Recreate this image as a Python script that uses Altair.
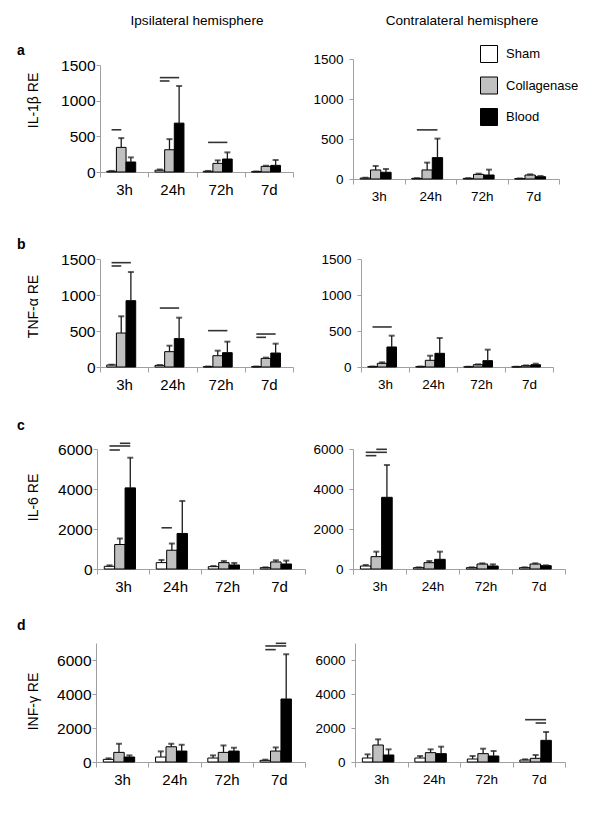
import altair as alt
import pandas as pd

categories = ["3h", "24h", "72h", "7d"]
groups = ["Sham", "Collagenase", "Blood"]
group_fills = ["#ffffff", "#c0c0c0", "#000000"]
column_titles = ["Ipsilateral hemisphere", "Contralateral hemisphere"]
row_letters = ["a", "b", "c", "d"]
row_titles = ["IL-1β RE", "TNF-α RE", "IL-6 RE", "INF-γ RE"]

# ---- a: IL-1beta ----
il1b_ipsi_sham = [10, 25, 10, 5]
il1b_ipsi_sham_sd = [5, 10, 5, 3]
il1b_ipsi_coll = [345, 312, 121, 79]
il1b_ipsi_coll_sd = [130, 149, 42, 9]
il1b_ipsi_blood = [140, 685, 182, 93]
il1b_ipsi_blood_sd = [65, 521, 93, 75]

il1b_contra_sham = [12, 8, 8, 5]
il1b_contra_sham_sd = [4, 3, 3, 2]
il1b_contra_coll = [113, 113, 58, 50]
il1b_contra_coll_sd = [50, 92, 9, 8]
il1b_contra_blood = [84, 267, 50, 29]
il1b_contra_blood_sd = [41, 238, 67, 9]

# ---- b: TNF-alpha ----
tnf_ipsi_sham = [28, 23, 5, 5]
tnf_ipsi_sham_sd = [4, 5, 2, 2]
tnf_ipsi_coll = [472, 213, 157, 120]
tnf_ipsi_coll_sd = [232, 83, 70, 10]
tnf_ipsi_blood = [921, 394, 199, 194]
tnf_ipsi_blood_sd = [398, 291, 153, 130]

tnf_contra_sham = [5, 5, 3, 3]
tnf_contra_sham_sd = [2, 2, 1, 1]
tnf_contra_coll = [51, 93, 32, 18]
tnf_contra_coll_sd = [14, 64, 5, 4]
tnf_contra_blood = [278, 190, 88, 32]
tnf_contra_blood_sd = [157, 213, 153, 14]

# ---- c: IL-6 ----
il6_ipsi_sham = [134, 318, 117, 67]
il6_ipsi_sham_sd = [50, 134, 34, 17]
il6_ipsi_coll = [1224, 939, 318, 352]
il6_ipsi_coll_sd = [301, 335, 84, 84]
il6_ipsi_blood = [4056, 1777, 201, 251]
il6_ipsi_blood_sd = [1508, 1625, 101, 168]

il6_contra_sham = [150, 67, 67, 67]
il6_contra_sham_sd = [50, 16, 16, 16]
il6_contra_coll = [617, 317, 250, 250]
il6_contra_coll_sd = [250, 83, 33, 33]
il6_contra_blood = [3584, 483, 150, 167]
il6_contra_blood_sd = [1616, 384, 83, 16]

# ---- d: INF-gamma ----
infg_ipsi_sham = [156, 293, 234, 98]
infg_ipsi_sham_sd = [59, 331, 156, 39]
infg_ipsi_coll = [566, 897, 566, 644]
infg_ipsi_coll_sd = [507, 176, 409, 214]
infg_ipsi_blood = [293, 644, 644, 3705]
infg_ipsi_blood_sd = [97, 370, 195, 2633]

infg_contra_sham = [235, 235, 176, 118]
infg_contra_sham_sd = [215, 118, 177, 39]
infg_contra_coll = [1000, 549, 490, 216]
infg_contra_coll_sd = [333, 196, 294, 196]
infg_contra_blood = [412, 490, 353, 1274]
infg_contra_blood_sd = [333, 412, 294, 490]

# significance bars: time, from group, to group, level
sig_il1b_ipsi = [["3h", "Sham", "Collagenase", 592], ["24h", "Sham", "Blood", 1323],
                 ["24h", "Sham", "Collagenase", 1276], ["72h", "Sham", "Blood", 415]]
sig_il1b_contra = [["24h", "Sham", "Blood", 614]]
sig_tnf_ipsi = [["3h", "Sham", "Blood", 1449], ["3h", "Sham", "Collagenase", 1403],
                ["24h", "Sham", "Blood", 819], ["72h", "Sham", "Blood", 505],
                ["7d", "Sham", "Blood", 458], ["7d", "Sham", "Collagenase", 412]]
sig_tnf_contra = [["3h", "Sham", "Blood", 556]]
sig_il6_ipsi = [["3h", "Collagenase", "Blood", 6285], ["3h", "Sham", "Blood", 6151],
                ["3h", "Sham", "Collagenase", 5950], ["24h", "Sham", "Collagenase", 2061]]
sig_il6_contra = [["3h", "Collagenase", "Blood", 5984], ["3h", "Sham", "Blood", 5834],
                  ["3h", "Sham", "Collagenase", 5667]]
sig_infg_ipsi = [["7d", "Collagenase", "Blood", 6981], ["7d", "Sham", "Blood", 6825],
                 ["7d", "Sham", "Collagenase", 6610]]
sig_infg_contra = [["7d", "Sham", "Blood", 2489], ["7d", "Collagenase", "Blood", 2293]]

FONT = "Liberation Sans"
GRAY = "#a0a0a0"


def panel(series, sigs, ymax, ticks, width, height, top, xoff, left, row,
          title_xy=None, letter_y=None, header=None, legend=False):
    recs = []
    for g, (m, s) in zip(groups, series):
        for c, mv, sv in zip(categories, m, s):
            recs.append({"time": c, "group": g, "mean": mv, "upper": mv + sv})
    df = pd.DataFrame(recs)
    srecs = []
    for i, (c, g1, g2, lvl) in enumerate(sigs):
        srecs.append({"time": c, "group": g1, "level": lvl, "id": i})
        srecs.append({"time": c, "group": g2, "level": lvl, "id": i})
    sdf = pd.DataFrame(srecs)

    xscale = alt.Scale(domain=categories, range=[xoff, width], paddingInner=0, paddingOuter=0)
    xoscale = alt.Scale(domain=groups, paddingInner=0, paddingOuter=1, align=0.35)
    yscale = alt.Scale(domain=[0, ymax], range=[height, top], nice=False, zero=True)

    xaxis = alt.Axis(title=None, labelAngle=0, tickBand="extent", tickSize=5,
                     tickColor=GRAY, domainColor=GRAY, labelFont=FONT,
                     labelFontSize=15 if left else 13.5, labelColor="black",
                     labelPadding=5)
    yax = dict(values=ticks, format="d", grid=False, tickSize=4, tickColor=GRAY,
               domainColor=GRAY, labelFont=FONT, labelFontSize=15.5 if left else 13.5,
               labelColor="black", labelPadding=1 if left else 6, offset=-xoff)
    if left:
        yax.update(title=row_titles[row], titleFont=FONT, titleFontSize=14,
                   titleFontWeight="normal", titleColor="black", titleAngle=270,
                   titleBaseline="middle", titleAlign="center",
                   titleX=title_xy[0], titleY=title_xy[1])
    else:
        yax["title"] = None
    yaxis = alt.Axis(**yax)

    X = alt.X("time:N", scale=xscale, axis=xaxis, sort=categories)
    XO = alt.XOffset("group:N", scale=xoscale, sort=groups)

    if legend:
        leg = alt.Legend(orient="none", legendX=127, legendY=-14, title=None,
                         symbolType="square", symbolSize=289, symbolStrokeColor="black",
                         symbolStrokeWidth=1, symbolOpacity=1, labelFont=FONT,
                         labelFontSize=13, labelColor="black", rowPadding=9.5,
                         labelOffset=8, padding=0, direction="vertical")
    else:
        leg = None

    bars = alt.Chart(df).mark_bar(stroke="black", strokeWidth=1, opacity=1).encode(
        x=X, xOffset=XO,
        y=alt.Y("mean:Q", scale=yscale, axis=yaxis),
        fill=alt.Fill("group:N", scale=alt.Scale(domain=groups, range=group_fills),
                      legend=leg),
    )
    err = alt.Chart(df).mark_rule(color="#1a1a1a", strokeWidth=1.3).encode(
        x=X, xOffset=XO,
        y=alt.Y("mean:Q", scale=yscale, axis=yaxis), y2="upper:Q")
    caps = alt.Chart(df).mark_tick(color="#1a1a1a", thickness=2, size=6).encode(
        x=X, xOffset=XO, y=alt.Y("upper:Q", scale=yscale, axis=yaxis))
    sig = alt.Chart(sdf).mark_line(color="#333333", strokeWidth=1.6).encode(
        x=X, xOffset=XO, y=alt.Y("level:Q", scale=yscale, axis=yaxis),
        detail="id:N")

    layers = [bars, err, caps, sig]
    if letter_y is not None:
        layers.append(alt.Chart(alt.Data(values=[{}])).mark_text(
            text=row_letters[row], align="left", baseline="middle", font=FONT,
            fontSize=14, fontWeight="bold", color="black").encode(
            x=alt.value(-79), y=alt.value(letter_y)))
    if header is not None:
        layers.append(alt.Chart(alt.Data(values=[{}])).mark_text(
            text=header[0], align="center", baseline="middle", font=FONT,
            fontSize=13.6, color="black").encode(
            x=alt.value(header[1]), y=alt.value(header[2])))
    return alt.layer(*layers).properties(width=width, height=height)


def ser(a, b, c, d, e, f):
    return [(a, b), (c, d), (e, f)]


t15 = [0, 500, 1000, 1500]
t6 = [0, 2000, 4000, 6000]

charts = [
    panel(ser(il1b_ipsi_sham, il1b_ipsi_sham_sd, il1b_ipsi_coll, il1b_ipsi_coll_sd,
              il1b_ipsi_blood, il1b_ipsi_blood_sd), sig_il1b_ipsi, 1500, t15,
          197, 113, 6, 4, True, 0, title_xy=(-66.5, 41), letter_y=-8,
          header=(column_titles[0], 101, -38)),
    panel(ser(il1b_contra_sham, il1b_contra_sham_sd, il1b_contra_coll, il1b_contra_coll_sd,
              il1b_contra_blood, il1b_contra_blood_sd), sig_il1b_contra, 1500, t15,
          206, 120, 0, 0, False, 0, header=(column_titles[1], 109, -38), legend=True),
    panel(ser(tnf_ipsi_sham, tnf_ipsi_sham_sd, tnf_ipsi_coll, tnf_ipsi_coll_sd,
              tnf_ipsi_blood, tnf_ipsi_blood_sd), sig_tnf_ipsi, 1500, t15,
          197, 114, 6, 4, True, 1, title_xy=(-66.5, 53), letter_y=-8.3),
    panel(ser(tnf_contra_sham, tnf_contra_sham_sd, tnf_contra_coll, tnf_contra_coll_sd,
              tnf_contra_blood, tnf_contra_blood_sd), sig_tnf_contra, 1500, t15,
          200, 114, 6, 8, False, 1),
    panel(ser(il6_ipsi_sham, il6_ipsi_sham_sd, il6_ipsi_coll, il6_ipsi_coll_sd,
              il6_ipsi_blood, il6_ipsi_blood_sd), sig_il6_ipsi, 6000, t6,
          209, 128, 8, 1, True, 2, title_xy=(-63.5, 56), letter_y=-15),
    panel(ser(il6_contra_sham, il6_contra_sham_sd, il6_contra_coll, il6_contra_coll_sd,
              il6_contra_blood, il6_contra_blood_sd), sig_il6_contra, 6000, t6,
          212, 128, 8, 0, False, 2),
    panel(ser(infg_ipsi_sham, infg_ipsi_sham_sd, infg_ipsi_coll, infg_ipsi_coll_sd,
              infg_ipsi_blood, infg_ipsi_blood_sd), sig_infg_ipsi, 7000, t6,
          209, 119, 0, 0, True, 3, title_xy=(-62.5, 58), letter_y=-17),
    panel(ser(infg_contra_sham, infg_contra_sham_sd, infg_contra_coll, infg_contra_coll_sd,
              infg_contra_blood, infg_contra_blood_sd), sig_infg_contra, 7000, t6,
          212, 119, 0, 2, False, 3),
]

chart = alt.concat(
    *charts, columns=2, spacing=alt.RowColnumber(row=74, column=48),
    bounds="flush", align="each"
).resolve_scale(xOffset="independent").resolve_legend(fill="independent").properties(
    padding={"left": 9, "top": 6, "right": 10, "bottom": 10}
).configure_view(stroke=None)

chart.save("out.html", embed_options={"renderer": "svg", "actions": False})
